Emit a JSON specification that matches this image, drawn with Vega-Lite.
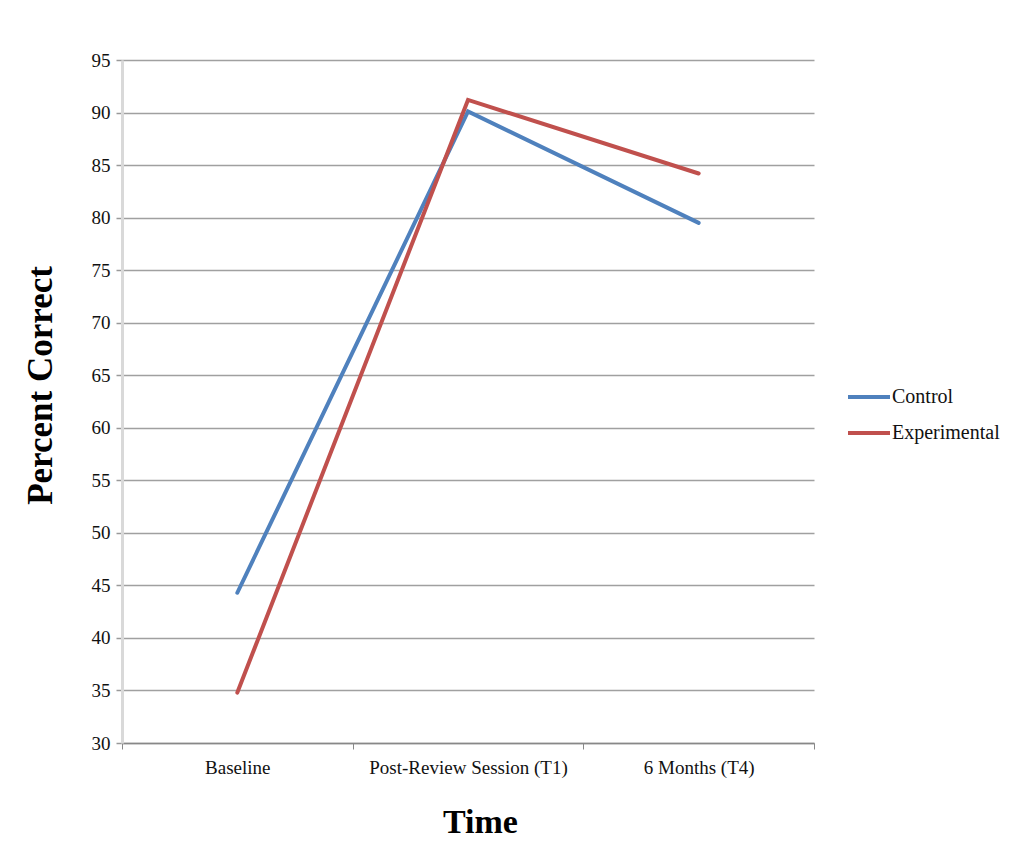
{
  "$schema": "https://vega.github.io/schema/vega-lite/v6.json",
  "autosize": {"type": "none"},
  "width": 692,
  "height": 683,
  "padding": {"left": 122, "top": 60, "right": 215, "bottom": 99},
  "background": "white",
  "config": {
    "view": {"stroke": null},
    "font": "Liberation Serif"
  },
  "data": {
    "values": [
      {"time": "Baseline", "group": "Control", "pct": 44.3},
      {"time": "Post-Review Session (T1)", "group": "Control", "pct": 90.1},
      {"time": "6 Months (T4)", "group": "Control", "pct": 79.5},
      {"time": "Baseline", "group": "Experimental", "pct": 34.8},
      {"time": "Post-Review Session (T1)", "group": "Experimental", "pct": 91.2},
      {"time": "6 Months (T4)", "group": "Experimental", "pct": 84.2}
    ]
  },
  "mark": {"type": "line", "strokeWidth": 4, "strokeCap": "round"},
  "encoding": {
    "x": {
      "field": "time",
      "type": "nominal",
      "sort": ["Baseline", "Post-Review Session (T1)", "6 Months (T4)"],
      "bandPosition": 0.5,
      "scale": {"type": "band", "paddingInner": 0, "paddingOuter": 0},
      "axis": {
        "title": "Time",
        "titleFont": "Liberation Serif",
        "titleFontSize": 34,
        "titleFontWeight": "bold",
        "titleColor": "#000000",
        "titleX": 358,
        "titleY": 79,
        "titleBaseline": "middle",
        "labelAngle": 0,
        "labelLimit": 400,
        "labelFont": "Liberation Serif",
        "labelFontSize": 19,
        "labelColor": "#111111",
        "labelPadding": 9,
        "tickBand": "extent",
        "tickSize": 6,
        "tickColor": "#888888",
        "tickWidth": 1,
        "domainColor": "#888888",
        "domainWidth": 1.5,
        "grid": false
      }
    },
    "y": {
      "field": "pct",
      "type": "quantitative",
      "scale": {"domain": [30, 95], "nice": false, "zero": false},
      "axis": {
        "title": "Percent Correct",
        "titleFont": "Liberation Serif",
        "titleFontSize": 35,
        "titleFontWeight": "bold",
        "titleColor": "#000000",
        "titleAngle": -90,
        "titleX": -82,
        "titleY": 325,
        "titleAlign": "center",
        "titleBaseline": "middle",
        "values": [30, 35, 40, 45, 50, 55, 60, 65, 70, 75, 80, 85, 90, 95],
        "labelFont": "Liberation Serif",
        "labelFontSize": 19,
        "labelColor": "#111111",
        "labelPadding": 6,
        "tickSize": 6,
        "tickColor": "#999999",
        "tickWidth": 1.5,
        "domainColor": "#d9d9d9",
        "domainWidth": 3,
        "grid": true,
        "gridColor": "#a0a0a0",
        "gridWidth": 1.5
      }
    },
    "color": {
      "field": "group",
      "type": "nominal",
      "scale": {"domain": ["Control", "Experimental"], "range": ["#4f81bd", "#c0504d"]},
      "legend": {
        "title": null,
        "orient": "none",
        "legendX": 724,
        "legendY": 314,
        "symbolType": "stroke",
        "symbolSize": 1764,
        "symbolStrokeWidth": 4,
        "labelFont": "Liberation Serif",
        "labelFontSize": 20,
        "labelColor": "#111111",
        "labelOffset": 0,
        "rowPadding": 3
      }
    }
  }
}
